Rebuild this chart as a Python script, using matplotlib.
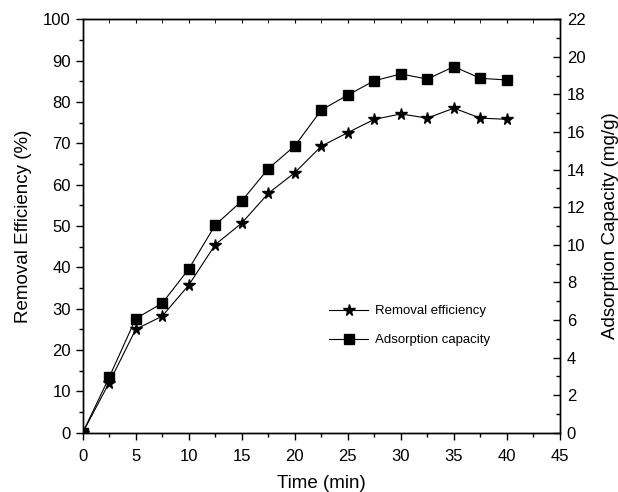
import numpy as np
import matplotlib
matplotlib.use('Agg')
import matplotlib.pyplot as plt
from matplotlib.ticker import MultipleLocator

plt.rcParams['font.family'] = ['Liberation Sans', 'DejaVu Sans']

time = [0, 2.5, 5, 7.5, 10, 12.5, 15, 17.5, 20, 22.5, 25, 27.5, 30, 32.5, 35, 37.5, 40]
removal = [0, 12.1, 25.0, 28.2, 35.7, 45.5, 50.7, 57.9, 62.9, 69.3, 72.6, 75.8, 77.1, 76.1, 78.5, 76.1, 75.8]
capacity = [0, 2.95, 6.07, 6.89, 8.71, 11.05, 12.33, 14.05, 15.26, 17.17, 17.97, 18.73, 19.09, 18.82, 19.48, 18.86, 18.77]

fig = plt.figure(figsize=(6.18, 4.92), dpi=100)
ax = fig.add_axes([0.1338, 0.1205, 0.7722, 0.8403])
ax2 = ax.twinx()

l1, = ax.plot(time, removal, color='black', lw=0.8, marker='*', ms=8.5,
              label='Removal efficiency')
l2, = ax2.plot(time, capacity, color='black', lw=0.8, marker='s', ms=6.5,
               label='Adsorption capacity')

ax.set_xlim(0, 45)
ax.set_ylim(0, 100)
ax2.set_ylim(0, 22)
ax.xaxis.set_major_locator(MultipleLocator(5))
ax.xaxis.set_minor_locator(MultipleLocator(2.5))
ax.yaxis.set_major_locator(MultipleLocator(10))
ax.yaxis.set_minor_locator(MultipleLocator(5))
ax2.yaxis.set_major_locator(MultipleLocator(2))
ax2.yaxis.set_minor_locator(MultipleLocator(1))

ax.tick_params(which='both', direction='out', labelsize=12, width=1)
ax.tick_params(which='major', length=5)
ax.tick_params(which='minor', length=3)
ax.tick_params(axis='x', which='major', pad=7)
ax2.tick_params(which='both', direction='in', labelsize=12, width=1, pad=5)
ax2.tick_params(which='major', length=5)
ax2.tick_params(which='minor', length=3)

top = ax.secondary_xaxis('top')
top.xaxis.set_major_locator(MultipleLocator(5))
top.xaxis.set_minor_locator(MultipleLocator(2.5))
top.tick_params(which='both', direction='in', labeltop=False, length=3)

for a in (ax, ax2):
    for s in a.spines.values():
        s.set_linewidth(1)

ax.set_xlabel('Time (min)', fontsize=13.5, labelpad=8)
ax.set_ylabel('Removal Efficiency (%)', fontsize=13.5, labelpad=8)
ax2.set_ylabel('Adsorption Capacity (mg/g)', fontsize=13.5, labelpad=12)

leg = ax.legend(handles=[l1, l2], loc='center left', bbox_to_anchor=(0.513, 0.338),
                bbox_transform=fig.transFigure, frameon=False, fontsize=9.5,
                handlelength=3, handletextpad=0.5, labelspacing=1.25)

fig.savefig('out.png', dpi=100)
